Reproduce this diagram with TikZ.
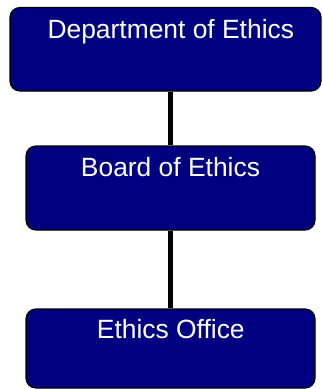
\documentclass[tikz,border=0pt]{standalone}
\usepackage{fontspec}
\setmainfont{Liberation Sans}
\definecolor{navy}{HTML}{000080}
\begin{document}
\begin{tikzpicture}[x=1pt,y=-1pt,
  orgbox/.style={draw=black, line width=1.2pt, fill=navy, rounded corners=10pt, rectangle, inner sep=0pt},
  orgtext/.style={text=white, anchor=base, inner sep=0pt, font=\fontsize{26.4}{30}\selectfont},
  link/.style={draw=black, line width=4.5pt}]
\useasboundingbox (0,0) rectangle (322,389);
\node[orgbox, minimum width=311pt, minimum height=83.5pt] (b1) at (165.5,49.25) {};
\node[orgbox, minimum width=289pt, minimum height=84pt] (b2) at (170.5,188) {};
\node[orgbox, minimum width=289pt, minimum height=79pt] (b3) at (170.5,348.5) {};
\draw[link] (b2.north |- b1.south) -- (b2.north);
\draw[link] (b2.south) -- (b3.north);
\node[orgtext] (t1) at (170.8,38.3) {Department of Ethics};
\node[orgtext] (t2) at (170.5,176.7) {Board of Ethics};
\node[orgtext] (t3) at (170.8,338.3) {Ethics Office};
\end{tikzpicture}
\end{document}
